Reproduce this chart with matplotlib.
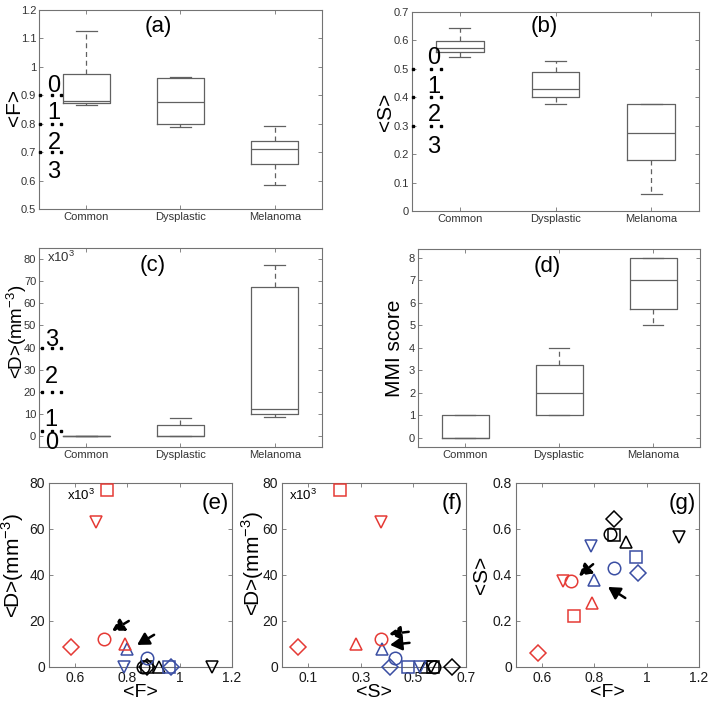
import matplotlib
matplotlib.use('Agg')
import matplotlib.pyplot as plt
from matplotlib.ticker import FuncFormatter, FixedLocator

plt.rcParams['font.family'] = ['Liberation Sans', 'DejaVu Sans']
plt.rcParams['mathtext.fontset'] = 'custom'
plt.rcParams['mathtext.rm'] = 'Liberation Sans'

# ---------------- data ----------------
groups = ['Common', 'Dysplastic', 'Melanoma']

# box statistics: whisker low, Q1, median, Q3, whisker high
F_box = [[0.865, 0.873, 0.880, 0.975, 1.125],
         [0.790, 0.800, 0.875, 0.962, 0.965],
         [0.583, 0.660, 0.710, 0.740, 0.793]]
S_box = [[0.543, 0.560, 0.575, 0.598, 0.645],
         [0.375, 0.400, 0.428, 0.490, 0.527],
         [0.060, 0.180, 0.275, 0.375, 0.377]]
D_box = [[0, 0, 0, 0, 0],
         [0, 0, 0, 5, 8],
         [8.5, 10, 12, 67.5, 77.5]]
MMI_box = [[0, 0, 0, 1, 1],
           [1, 1, 2, 3.25, 4],
           [5, 5.75, 7, 8, 8]]

# per-lesion values (marker order: o, s, ^, v, D)
markers = ['o', 's', '^', 'v', 'D']
F_common = [0.860, 0.875, 0.920, 1.125, 0.875]
S_common = [0.580, 0.575, 0.545, 0.565, 0.645]
D_common = [0, 0, 0, 0, 0]
F_dys = [0.875, 0.960, 0.800, 0.785, 0.965]
S_dys = [0.430, 0.480, 0.380, 0.525, 0.410]
D_dys = [4, 0, 8, 0, 0]
F_mel = [0.710, 0.720, 0.790, 0.680, 0.583]
S_mel = [0.375, 0.220, 0.280, 0.375, 0.060]
D_mel = [12, 77, 10, 63, 8.5]

# arrows: (tail, tip) in data coordinates, dashed then solid
arrows_e = [((0.805, 20.0), (0.741, 15.7)), ((0.902, 14.0), (0.837, 9.6))]
arrows_f = [((0.482, 15.3), (0.407, 14.3)), ((0.485, 10.5), (0.411, 9.6))]
arrows_g = [((0.795, 0.447), (0.741, 0.396)), ((0.918, 0.300), (0.852, 0.348))]

# overlay digits / dotted levels seen in panels a-c
ovl_a_digits = [0.933, 0.836, 0.733, 0.630]
ovl_a_dots = [0.9, 0.8, 0.7]
ovl_b_digits = [0.538, 0.436, 0.338, 0.225]
ovl_b_dots = [0.5, 0.4, 0.3]
ovl_c_digits = [-3.2, 7.2, 26.7, 43.4]
ovl_c_dots = [2.2, 20, 40]
ovl_labels = ['0', '1', '2', '3']

# ---------------- figure ----------------
W, H = 714, 704
fig = plt.figure(figsize=(W / 100, H / 100), dpi=100)


def rect(l, t, r, b):
    return [l / W, 1 - b / H, (r - l) / W, (b - t) / H]


GRAY = '0.38'
RED = '#e53a35'
BLUE = '#3a4ea3'
fmt = FuncFormatter(lambda v, p: '%g' % round(v, 6))


def style_axes(ax, labcolor='0.2', fs=8, pad=2):
    for s in ax.spines.values():
        s.set_color('0.45')
        s.set_linewidth(0.8)
    ax.tick_params(direction='in', top=True, right=True, length=3,
                   width=0.6, color='0.45', labelsize=fs, labelcolor=labcolor,
                   pad=pad)


def set_ylab(ax, text, x, y, fs=15):
    ax.set_ylabel(text, fontsize=fs, va='center', ha='center')
    ax.yaxis.set_label_coords(x, y)


def box_panel(ax, stats, ylim, yticks, ylabel, label, lab_xy, ylab_xy,
              ylab_fs=15):
    bstats = []
    for s in stats:
        bstats.append(dict(whislo=s[0], q1=s[1], med=s[2], q3=s[3],
                           whishi=s[4], fliers=[]))
    ax.bxp(bstats, positions=[1, 2, 3], widths=0.5, capwidths=0.22,
           showfliers=False,
           boxprops=dict(color=GRAY, lw=0.9),
           whiskerprops=dict(color=GRAY, lw=0.9, ls=(0, (4, 3))),
           capprops=dict(color=GRAY, lw=0.9),
           medianprops=dict(color=GRAY, lw=0.9))
    ax.set_xlim(0.5, 3.5)
    ax.set_ylim(*ylim)
    ax.set_xticks([1, 2, 3])
    ax.set_xticklabels(groups)
    ax.yaxis.set_major_locator(FixedLocator(yticks))
    ax.yaxis.set_major_formatter(fmt)
    style_axes(ax)
    set_ylab(ax, ylabel, ylab_xy[0], ylab_xy[1], fs=ylab_fs)
    ax.text(lab_xy[0], lab_xy[1], label, transform=ax.transAxes,
            fontsize=16, ha='center', va='center')


def overlay(ax, digits, dots, xdig, xdots):
    for d, t in zip(digits, ovl_labels):
        ax.text(xdig, d, t, fontsize=17, ha='center', va='center',
                clip_on=False, zorder=5)
    for y in dots:
        ax.plot(xdots, [y] * len(xdots), ls='none', marker='s', ms=2,
                color='k', clip_on=False, zorder=5)


# (a)
axa = fig.add_axes(rect(39, 10, 322, 209))
box_panel(axa, F_box, (0.5, 1.2), [0.5, 0.6, 0.7, 0.8, 0.9, 1.0, 1.1, 1.2],
          '<F>', '(a)', (0.42, 0.915), (-0.085, 0.51))
overlay(axa, ovl_a_digits, ovl_a_dots, 0.66, [0.51, 0.64, 0.73])

# (b)
axb = fig.add_axes(rect(412, 12, 699, 211))
box_panel(axb, S_box, (0, 0.7), [0, 0.1, 0.2, 0.3, 0.4, 0.5, 0.6, 0.7],
          '<S>', '(b)', (0.46, 0.925), (-0.094, 0.5))
overlay(axb, ovl_b_digits, ovl_b_dots, 0.73, [0.51, 0.70, 0.80])

# (c)
axc = fig.add_axes(rect(39, 248, 322, 447))
box_panel(axc, D_box, (-5, 85), [0, 10, 20, 30, 40, 50, 60, 70, 80],
          '<D>(mm$^{-3}$)', '(c)', (0.40, 0.91), (-0.078, 0.58), ylab_fs=13.5)
overlay(axc, ovl_c_digits, ovl_c_dots, 0.63, [0.53, 0.64, 0.73])
axc.text(0.03, 0.955, 'x10$^3$', transform=axc.transAxes, fontsize=9.5,
         ha='left', va='center', color='0.2')

# (d)
axd = fig.add_axes(rect(418, 249, 700, 447))
box_panel(axd, MMI_box, (-0.4, 8.4), [0, 1, 2, 3, 4, 5, 6, 7, 8],
          'MMI score', '(d)', (0.46, 0.914), (-0.082, 0.5))


# ---------------- scatter panels ----------------
def scatter_panel(ax, xs, ys):
    for (x, y, c) in zip(xs, ys, ['k', BLUE, RED]):
        for xi, yi, m in zip(x, y, markers):
            ax.plot([xi], [yi], ls='none', marker=m, ms=9 if m != 'D' else 8,
                    mfc='none', mec=c, mew=1.1, clip_on=False, zorder=3)
    style_axes(ax, labcolor='0.1', fs=10, pad=3)


def draw_arrows(ax, arrows):
    for i, (tail, tip) in enumerate(arrows):
        ax.annotate('', xy=tip, xytext=tail,
                    arrowprops=dict(arrowstyle='-|>,head_length=0.7,head_width=0.4',
                                    mutation_scale=10,
                                    lw=1.8, color='k',
                                    ls=(0, (2.5, 1.5)) if i == 0 else '-',
                                    shrinkA=0, shrinkB=0),
                    zorder=6)


def set_xlab(ax, text):
    ax.set_xlabel(text, fontsize=14, va='center')
    ax.xaxis.set_label_coords(0.5, -0.14)


# (e)
axe = fig.add_axes(rect(49, 483, 232, 667))
scatter_panel(axe, [F_common, F_dys, F_mel], [D_common, D_dys, D_mel])
axe.set_xlim(0.5, 1.2)
axe.set_ylim(0, 80)
axe.xaxis.set_major_locator(FixedLocator([0.6, 0.8, 1.0, 1.2]))
axe.yaxis.set_major_locator(FixedLocator([0, 20, 40, 60, 80]))
axe.xaxis.set_major_formatter(fmt)
set_xlab(axe, '<F>')
set_ylab(axe, '<D>(mm$^{-3}$)', -0.20, 0.55)
axe.text(0.10, 0.93, 'x10$^3$', transform=axe.transAxes, fontsize=9.5,
         ha='left', va='center')
axe.text(0.985, 0.89, '(e)', transform=axe.transAxes, fontsize=16,
         ha='right', va='center')
draw_arrows(axe, arrows_e)

# (f)
axf = fig.add_axes(rect(282, 483, 466, 667))
scatter_panel(axf, [S_common, S_dys, S_mel], [D_common, D_dys, D_mel])
axf.set_xlim(0, 0.7)
axf.set_ylim(0, 80)
axf.xaxis.set_major_locator(FixedLocator([0.1, 0.3, 0.5, 0.7]))
axf.yaxis.set_major_locator(FixedLocator([0, 20, 40, 60, 80]))
axf.xaxis.set_major_formatter(fmt)
set_xlab(axf, '<S>')
set_ylab(axf, '<D>(mm$^{-3}$)', -0.16, 0.56)
axf.text(0.04, 0.93, 'x10$^3$', transform=axf.transAxes, fontsize=9.5,
         ha='left', va='center')
axf.text(0.985, 0.89, '(f)', transform=axf.transAxes, fontsize=16,
         ha='right', va='center')
draw_arrows(axf, arrows_f)

# (g)
axg = fig.add_axes(rect(516, 483, 699, 667))
scatter_panel(axg, [F_common, F_dys, F_mel], [S_common, S_dys, S_mel])
axg.set_xlim(0.5, 1.2)
axg.set_ylim(0, 0.8)
axg.xaxis.set_major_locator(FixedLocator([0.6, 0.8, 1.0, 1.2]))
axg.yaxis.set_major_locator(FixedLocator([0, 0.2, 0.4, 0.6, 0.8]))
axg.xaxis.set_major_formatter(fmt)
axg.yaxis.set_major_formatter(fmt)
set_xlab(axg, '<F>')
set_ylab(axg, '<S>', -0.19, 0.5)
axg.text(0.985, 0.89, '(g)', transform=axg.transAxes, fontsize=16,
         ha='right', va='center')
draw_arrows(axg, arrows_g)

fig.savefig('out.png', dpi=100)
